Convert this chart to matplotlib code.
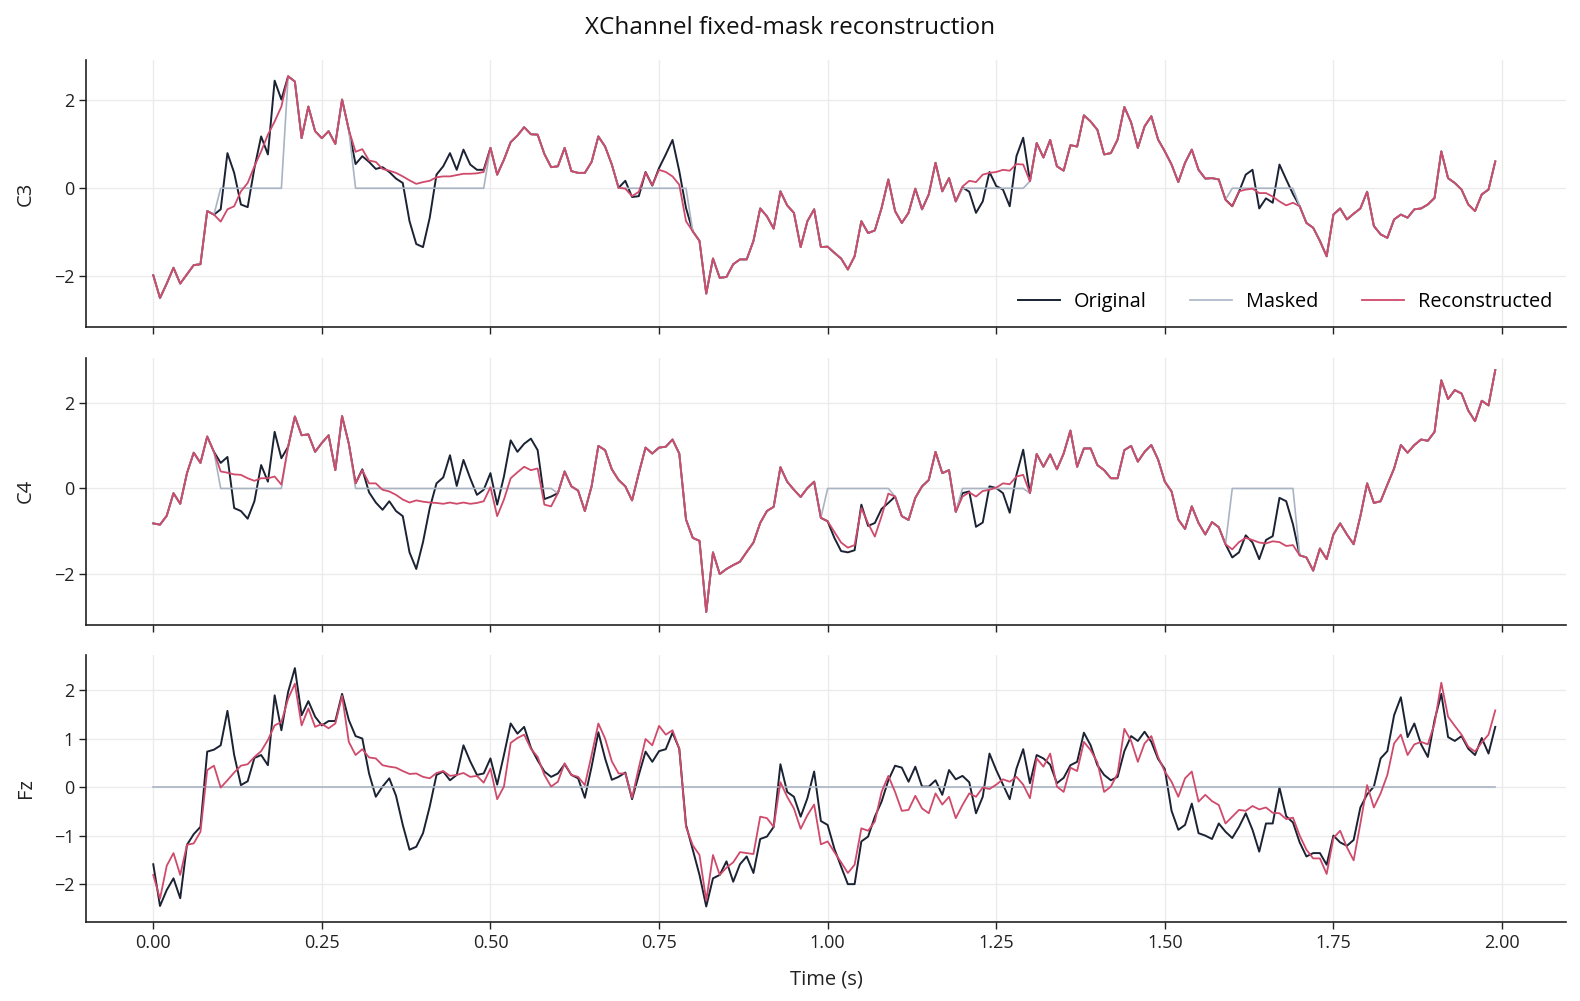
import numpy as np
import matplotlib
matplotlib.use("Agg")
import matplotlib.pyplot as plt

# ---------------- data ----------------
dt = 0.01
channels = ["C3", "C4", "Fz"]

c3_orig = [-1.98, -2.50, -2.17, -1.81, -2.17, -1.96, -1.75, -1.73, -0.52, -0.60,
           -0.48, 0.80, 0.35, -0.37, -0.43, 0.46, 1.18, 0.77, 2.45, 2.02,
           2.55, 2.43, 1.14, 1.86, 1.30, 1.14, 1.30, 1.01, 2.02, 1.33,
           0.55, 0.73, 0.60, 0.44, 0.48, 0.37, 0.22, 0.12, -0.75, -1.27,
           -1.34, -0.67, 0.31, 0.50, 0.80, 0.42, 0.88, 0.54, 0.42, 0.42,
           0.92, 0.31, 0.65, 1.05, 1.20, 1.39, 1.23, 1.22, 0.78, 0.48,
           0.50, 0.92, 0.39, 0.35, 0.35, 0.60, 1.18, 0.95, 0.54, 0.01,
           0.17, -0.20, -0.18, 0.37, 0.06, 0.46, 0.77, 1.10, 0.39, -0.45,
           -0.98, -1.20, -2.40, -1.60, -2.04, -2.02, -1.73, -1.62, -1.62, -1.20,
           -0.46, -0.64, -0.92, -0.07, -0.39, -0.56, -1.34, -0.75, -0.48, -1.34,
           -1.33, -1.47, -1.60, -1.85, -1.55, -0.75, -1.02, -0.96, -0.45, 0.20,
           -0.52, -0.79, -0.56, -0.01, -0.48, -0.14, 0.58, -0.07, 0.23, -0.30,
           0.02, -0.08, -0.56, -0.30, 0.37, 0.05, -0.03, -0.41, 0.73, 1.15,
           0.16, 1.03, 0.70, 1.10, 0.50, 0.40, 0.98, 0.95, 1.66, 1.52,
           1.33, 0.77, 0.80, 1.11, 1.85, 1.50, 0.92, 1.41, 1.64, 1.11,
           0.84, 0.54, 0.14, 0.58, 0.88, 0.42, 0.22, 0.23, 0.20, -0.26,
           -0.41, -0.08, 0.31, 0.42, -0.46, -0.23, -0.33, 0.54, 0.20, -0.13,
           -0.41, -0.79, -0.90, -1.20, -1.55, -0.60, -0.46, -0.71, -0.58, -0.46,
           -0.08, -0.86, -1.05, -1.13, -0.71, -0.60, -0.67, -0.48, -0.46, -0.37,
           -0.22, 0.84, 0.23, 0.12, -0.03, -0.37, -0.52, -0.14, -0.03, 0.61]

c4_orig = [-0.82, -0.85, -0.64, -0.11, -0.36, 0.36, 0.84, 0.60, 1.22, 0.86,
           0.60, 0.74, -0.46, -0.53, -0.71, -0.30, 0.55, 0.16, 1.33, 0.71,
           0.98, 1.69, 1.25, 1.27, 0.86, 1.07, 1.25, 0.43, 1.70, 1.05,
           0.12, 0.45, -0.09, -0.33, -0.50, -0.30, -0.53, -0.65, -1.50, -1.89,
           -1.26, -0.46, 0.12, 0.26, 0.78, 0.06, 0.67, 0.24, -0.15, -0.03,
           0.36, -0.38, 0.28, 1.13, 0.86, 1.05, 1.17, 0.90, -0.25, -0.19,
           -0.11, 0.40, 0.05, -0.05, -0.53, 0.05, 1.00, 0.90, 0.45, 0.20,
           0.05, -0.28, 0.36, 0.96, 0.82, 0.96, 0.98, 1.15, 0.82, -0.73,
           -1.16, -1.23, -2.90, -1.50, -2.01, -1.89, -1.80, -1.72, -1.49, -1.27,
           -0.81, -0.53, -0.43, 0.50, 0.16, -0.03, -0.20, 0.01, 0.16, -0.69,
           -0.77, -1.16, -1.47, -1.50, -1.45, -0.38, -0.88, -0.81, -0.48, -0.34,
           -0.19, -0.65, -0.74, -0.22, 0.05, 0.20, 0.86, 0.36, 0.43, -0.55,
           -0.11, -0.07, -0.90, -0.80, 0.05, 0.01, -0.11, -0.57, 0.32, 0.91,
           -0.11, 0.81, 0.51, 0.80, 0.45, 0.82, 1.36, 0.51, 0.94, 0.94,
           0.55, 0.43, 0.24, 0.24, 0.90, 1.00, 0.63, 0.86, 1.02, 0.68,
           0.16, -0.07, -0.73, -0.95, -0.42, -0.81, -1.08, -0.79, -0.91, -1.31,
           -1.62, -1.50, -1.10, -1.27, -1.66, -1.21, -1.12, -0.22, -0.30, -0.84,
           -1.57, -1.62, -1.93, -1.41, -1.66, -1.08, -0.82, -1.08, -1.31, -0.65,
           0.12, -0.34, -0.30, 0.09, 0.47, 1.02, 0.84, 1.02, 1.15, 1.12,
           1.33, 2.54, 2.10, 2.31, 2.23, 1.83, 1.58, 2.06, 1.95, 2.78]

fz_orig = [-1.59, -2.45, -2.12, -1.88, -2.29, -1.19, -0.97, -0.82, 0.73, 0.77,
           0.86, 1.57, 0.66, 0.04, 0.12, 0.60, 0.66, 0.45, 1.89, 1.17,
           1.96, 2.45, 1.48, 1.77, 1.45, 1.27, 1.36, 1.36, 1.92, 1.38,
           1.05, 1.00, 0.28, -0.20, 0.01, 0.18, -0.18, -0.78, -1.29, -1.23,
           -0.95, -0.40, 0.25, 0.32, 0.14, 0.25, 0.86, 0.53, 0.25, 0.28,
           0.59, 0.05, 0.66, 1.31, 1.10, 1.24, 0.81, 0.55, 0.32, 0.21,
           0.28, 0.47, 0.25, 0.18, -0.22, 0.42, 1.13, 0.59, 0.15, 0.21,
           0.30, -0.25, 0.25, 0.73, 0.52, 0.74, 0.78, 1.12, 0.79, -0.78,
           -1.29, -1.81, -2.46, -1.88, -1.81, -1.53, -1.95, -1.59, -1.43, -1.77,
           -1.07, -1.02, -0.82, 0.47, -0.10, -0.20, -0.61, -0.23, 0.32, -0.70,
           -0.78, -1.27, -1.64, -2.00, -2.00, -1.12, -1.02, -0.61, -0.30, 0.14,
           0.44, 0.40, 0.11, 0.42, 0.01, 0.01, 0.14, -0.16, 0.35, 0.16,
           0.23, 0.10, -0.54, -0.20, 0.69, 0.35, 0.05, -0.25, 0.38, 0.78,
           0.08, 0.66, 0.59, 0.46, 0.08, 0.19, 0.45, 0.52, 1.12, 0.86,
           0.45, 0.25, 0.14, 0.21, 0.74, 1.05, 0.95, 1.14, 0.93, 0.58,
           0.37, -0.49, -0.88, -0.78, -0.34, -0.95, -1.00, -1.07, -0.75, -0.92,
           -1.05, -0.82, -0.54, -0.88, -1.33, -0.75, -0.75, -0.01, -0.60, -0.73,
           -1.14, -1.43, -1.36, -1.36, -1.60, -1.00, -1.14, -1.21, -1.09, -0.42,
           -0.15, 0.01, 0.59, 0.74, 1.48, 1.85, 1.03, 1.31, 0.88, 0.62,
           1.38, 1.92, 1.03, 0.95, 1.05, 0.79, 0.66, 1.01, 0.69, 1.24]

# mask spans (seconds, start inclusive / end exclusive)
c3_masks = [(0.10, 0.20), (0.30, 0.50), (0.70, 0.80), (1.20, 1.30), (1.60, 1.70)]
c4_masks = [(0.10, 0.20), (0.30, 0.60), (1.00, 1.10), (1.20, 1.30), (1.60, 1.70)]
fz_masks = [(0.00, 2.00)]

# reconstructed values inside each masked span
c3_rec = [[-0.76, -0.48, -0.41, -0.07, 0.12, 0.50, 0.84, 1.22, 1.52, 1.86],
          [0.83, 0.89, 0.63, 0.60, 0.44, 0.40, 0.35, 0.27, 0.18, 0.10,
           0.14, 0.17, 0.25, 0.27, 0.27, 0.30, 0.33, 0.33, 0.34, 0.37],
          [-0.01, -0.18, -0.08, 0.36, 0.07, 0.42, 0.37, 0.27, 0.08, -0.75],
          [0.04, 0.17, 0.14, 0.31, 0.35, 0.37, 0.42, 0.40, 0.55, 0.54],
          [-0.41, -0.07, -0.03, -0.01, -0.11, -0.11, -0.19, -0.30, -0.39, -0.33]]

c4_rec = [[0.40, 0.37, 0.33, 0.32, 0.24, 0.18, 0.24, 0.24, 0.28, 0.09],
          [0.12, 0.43, 0.12, 0.12, -0.03, -0.07, -0.15, -0.26, -0.33, -0.28,
           -0.31, -0.33, -0.34, -0.36, -0.33, -0.36, -0.33, -0.36, -0.34, -0.30,
           0.03, -0.65, -0.26, 0.24, 0.38, 0.51, 0.43, 0.47, -0.38, -0.42],
          [-0.77, -1.02, -1.27, -1.39, -1.33, -0.46, -0.82, -1.13, -0.65, -0.12],
          [-0.19, -0.09, -0.19, -0.06, -0.03, 0.02, 0.12, 0.10, 0.28, 0.32],
          [-1.43, -1.26, -1.16, -1.21, -1.27, -1.29, -1.24, -1.26, -1.35, -1.33]]

fz_rec = [[-1.81, -2.30, -1.62, -1.36, -1.81, -1.19, -1.16, -0.92, 0.35, 0.44,
           -0.01, 0.14, 0.30, 0.44, 0.47, 0.62, 0.74, 0.97, 1.27, 1.34,
           1.82, 2.13, 1.27, 1.62, 1.24, 1.30, 1.21, 1.31, 1.88, 0.93,
           0.66, 0.78, 0.61, 0.59, 0.45, 0.42, 0.40, 0.33, 0.27, 0.28,
           0.21, 0.18, 0.29, 0.33, 0.23, 0.25, 0.29, 0.21, 0.23, 0.09,
           0.38, -0.25, 0.01, 0.91, 1.01, 1.08, 0.79, 0.62, 0.25, 0.01,
           0.11, 0.49, 0.25, 0.21, 0.04, 0.66, 1.31, 1.00, 0.53, 0.28,
           0.28, -0.22, 0.40, 0.99, 0.86, 1.26, 1.08, 1.17, 0.79, -0.82,
           -1.20, -1.40, -2.34, -1.40, -1.81, -1.66, -1.55, -1.34, -1.36, -1.38,
           -0.61, -0.64, -0.82, 0.10, -0.20, -0.44, -0.86, -0.58, -0.36, -1.18,
           -1.12, -1.34, -1.55, -1.77, -1.60, -0.85, -0.90, -0.71, -0.10, 0.23,
           -0.10, -0.49, -0.47, -0.18, -0.44, -0.54, -0.13, -0.36, -0.20, -0.64,
           -0.37, -0.13, -0.20, -0.01, -0.04, 0.05, 0.16, 0.11, 0.21, 0.05,
           -0.23, 0.59, 0.42, 0.69, 0.01, -0.10, 0.40, 0.33, 0.93, 0.76,
           0.51, -0.10, 0.01, 0.28, 1.20, 0.95, 0.52, 0.90, 1.05, 0.62,
           0.32, 0.11, -0.20, 0.18, 0.32, -0.30, -0.16, -0.29, -0.37, -0.75,
           -0.61, -0.47, -0.49, -0.39, -0.46, -0.42, -0.53, -0.54, -0.66, -0.63,
           -1.00, -1.29, -1.47, -1.47, -1.79, -1.05, -0.90, -1.24, -1.51, -0.75,
           0.04, -0.42, -0.13, 0.25, 0.90, 1.08, 0.66, 0.88, 0.93, 0.88,
           1.31, 2.15, 1.45, 1.26, 1.08, 0.83, 0.73, 0.92, 1.08, 1.58]]

x_ticks = [0.00, 0.25, 0.50, 0.75, 1.00, 1.25, 1.50, 1.75, 2.00]

# ---------------- style ----------------
plt.rcParams['font.family'] = ['Open Sans', 'DejaVu Sans']
plt.rcParams['axes.unicode_minus'] = True

COL_ORIG = "#1a2233"
COL_MASK = "#a9b4c3"
COL_REC = "#cf4a6b"
COL_GRID = "#ebebeb"
COL_SPINE = "#222222"
FS_TICK = 13
FS_LAB = 14.5

fig = plt.figure(figsize=(15.8, 10.01), dpi=100)
axes = fig.subplots(3, 1, sharex=True)
fig.subplots_adjust(left=0.0544, right=0.9911, bottom=0.0789, top=0.9396, hspace=0.1134)

data = [(c3_orig, c3_masks, c3_rec), (c4_orig, c4_masks, c4_rec), (fz_orig, fz_masks, fz_rec)]
ylims = [(-3.17, 2.91), (-3.20, 3.07), (-2.78, 2.72)]
yticks = [[-2, 0, 2], [-2, 0, 2], [-2, -1, 0, 1, 2]]

for ax, name, (orig, spans, recs), yl, yt in zip(axes, channels, data, ylims, yticks):
    orig = np.asarray(orig, dtype=float)
    t = np.arange(len(orig)) * dt
    masked = orig.copy()
    rec = orig.copy()
    for (a, b), seg in zip(spans, recs):
        m = (t >= a - 1e-9) & (t < b - 1e-9)
        masked[m] = 0.0
        rec[m] = np.asarray(seg, dtype=float)[:m.sum()]
    ax.plot(t, orig, color=COL_ORIG, lw=1.4, label="Original", zorder=3)
    ax.plot(t, masked, color=COL_MASK, lw=1.2, label="Masked", zorder=4)
    ax.plot(t, rec, color=COL_REC, lw=1.3, label="Reconstructed", zorder=5)
    ax.set_ylim(*yl)
    ax.set_yticks(yt)
    ax.set_xlim(-0.0998, 2.0948)
    ax.set_xticks(x_ticks)
    ax.grid(True, color=COL_GRID, lw=1.0)
    ax.set_axisbelow(True)
    for s in ("top", "right"):
        ax.spines[s].set_visible(False)
    for s in ("left", "bottom"):
        ax.spines[s].set_color(COL_SPINE)
        ax.spines[s].set_linewidth(1.2)
    ax.tick_params(axis="both", labelsize=FS_TICK, length=5, width=1.0, color=COL_SPINE, labelcolor="#222222")
    ax.set_ylabel(name, fontsize=FS_LAB, color="#222222")
    ax.yaxis.set_label_coords(-0.034, 0.5)

axes[-1].xaxis.set_major_formatter(matplotlib.ticker.FormatStrFormatter("%.2f"))
axes[-1].set_xlabel("Time (s)", fontsize=FS_LAB, color="#222222")
axes[-1].xaxis.set_label_coords(0.5, -0.178)

axes[0].legend(loc="lower right", ncol=3, frameon=False, fontsize=14.3,
               handlelength=2.1, handletextpad=0.7, columnspacing=2.2,
               bbox_to_anchor=(1.0, 0.005), borderaxespad=0.3)

fig.suptitle("XChannel fixed-mask reconstruction", fontsize=17.5, y=0.972, va="center", color="#111111")

fig.savefig("out.png", dpi=100)
